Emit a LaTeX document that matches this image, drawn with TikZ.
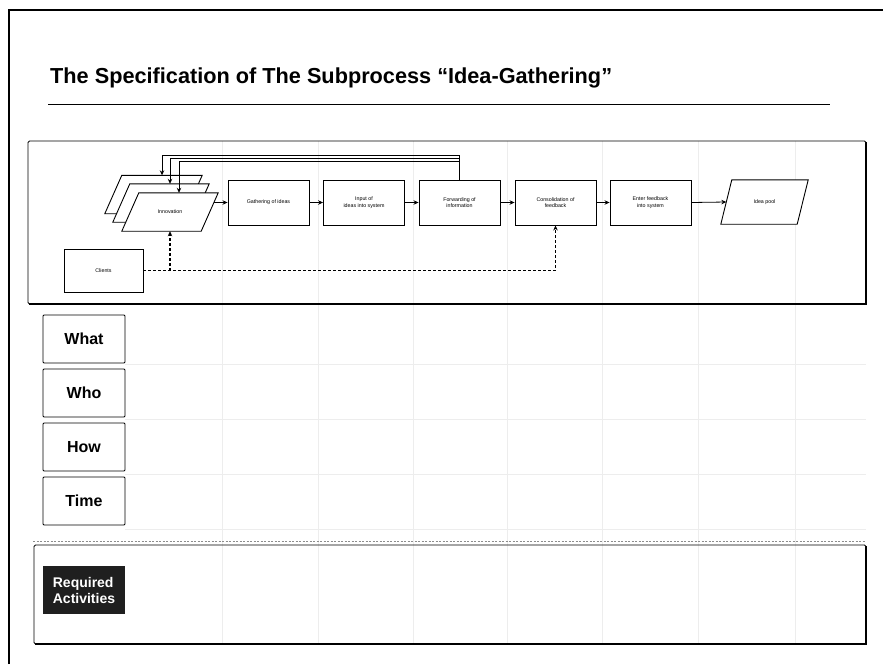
\documentclass[tikz,border=0pt]{standalone}
\usepackage{fontspec}
\setmainfont{Liberation Sans}
\usetikzlibrary{arrows.meta,calc}
\begin{document}
\begin{tikzpicture}[x=1pt,y=-1pt,
 proc/.style={draw,line width=0.9pt,minimum width=81pt,minimum height=45pt,inner sep=1pt,align=center,font=\fontsize{5.3}{6.3}\selectfont,fill=white},
 parabox/.style={inner sep=0pt,font=\fontsize{5.3}{6.3}\selectfont},
 paraline/.style={draw,line width=0.9pt,fill=white},
 arr/.style={line width=0.8pt,-{Stealth[length=5pt,width=4.5pt]}},
 fb/.style={line width=0.8pt,-{Stealth[length=5pt,width=4.5pt]}},
 darr/.style={line width=1.1pt,dash pattern=on 3pt off 2pt,-{Stealth[length=5pt,width=4.5pt]}},
 rowbox/.style={draw,line width=0.8pt,rounded corners=1pt,minimum width=82pt,minimum height=48pt,font=\bfseries\fontsize{16}{18}\selectfont},
 faint/.style={draw=black!7,line width=0.6pt},
 panel/.style={line width=0.9pt,rounded corners=1.5pt},
 shadow/.style={line width=2.2pt},
]
\useasboundingbox[fill=white] (0,0) rectangle (883,664);

% outer frame
\draw[line width=1.3pt] (9,664) -- (9,10) -- (883,10);

% title
\node[anchor=base west,inner sep=0pt,font=\bfseries\fontsize{21.7}{26}\selectfont] (title) at (50,83) {The Specification of The Subprocess “Idea-Gathering”};
\draw[line width=0.9pt] (48,104) -- (830,104);

% faint grid
\foreach \x in {222,318,413,507,602,698,795} \draw[faint] (\x,141) -- (\x,644);
\foreach \y in {364,419,474,529} \draw[faint] (125,\y) -- (866,\y);

% process panel
\draw[panel] (28,141) rectangle (866,304);
\draw[shadow] (29,304.3) -- (866.3,304.3) -- (866.3,142);

% innovation stack (bounding boxes as named nodes, parallelograms drawn on them)
\node[parabox,minimum width=97pt,minimum height=38pt] (innA) at (153.5,194.5) {};
\draw[paraline] (innA.south west) -- ([xshift=17pt]innA.north west) -- (innA.north east) -- ([xshift=-17pt]innA.south east) -- cycle;
\node[parabox,minimum width=96pt,minimum height=38pt] (innB) at (161,203) {};
\draw[paraline] (innB.south west) -- ([xshift=17pt]innB.north west) -- (innB.north east) -- ([xshift=-17pt]innB.south east) -- cycle;
\node[parabox,minimum width=96pt,minimum height=38pt] (innC) at (170,212) {};
\draw[paraline] (innC.south west) -- ([xshift=17pt]innC.north west) -- (innC.north east) -- ([xshift=-17pt]innC.south east) -- cycle;
\node[parabox] (innT) at (innC) {Innovation};

% process boxes
\node[proc] (gat) at (268.5,202.5) {Gathering of ideas};
\node[proc] (inp) at (364,202.5) {Input of\\ideas into system};
\node[proc] (fwd) at (459.5,202.5) {Forwarding of\\information};
\node[proc] (con) at (555.5,202.5) {Consolidation of\\feedback};
\node[proc] (ent) at (650.5,202.5) {Enter feedback\\into system};
\node[parabox,minimum width=87pt,minimum height=44pt] (pool) at (764.5,202) {};
\draw[paraline] (pool.south west) -- ([xshift=11pt]pool.north west) -- (pool.north east) -- ([xshift=-11pt]pool.south east) -- cycle;
\node[parabox] (poolT) at (pool) {Idea pool};
\node[proc,minimum width=79pt,minimum height=43pt] (cli) at (103.5,270.5) {Clients};

% flow arrows
\draw[arr] ([xshift=-4pt]innC.east |- gat.west) -- (gat.west);
\draw[arr] (gat) -- (inp);
\draw[arr] (inp) -- (fwd);
\draw[arr] (fwd) -- (con);
\draw[arr] (con) -- (ent);
\draw[arr] (ent.east) -- ([xshift=5.5pt]pool.west);

% feedback loops
\draw[fb] (fwd.north) |- ([xshift=8.5pt,yshift=20pt]innA.north) -- ([xshift=8.5pt]innA.north);
\draw[fb] (fwd.north) |- ([xshift=9pt,yshift=25pt]innB.north) -- ([xshift=9pt]innB.north);
\draw[fb] (fwd.north) |- ([xshift=9pt,yshift=31pt]innC.north) -- ([xshift=9pt]innC.north);

% clients dashed
\draw[darr] (cli.east) -| (con.south);
\draw[darr] (cli.east -| innC.south) -- (innC.south);

% row labels
\node[rowbox] (what) at (84,339) {What};
\node[rowbox] (who) at (84,393) {Who};
\node[rowbox] (how) at (84,447) {How};
\node[rowbox] (time) at (84,501) {Time};

% separator and bottom panel
\draw[black!45,line width=0.7pt,dash pattern=on 2pt off 1.5pt] (33,541.5) -- (866,541.5);
\draw[panel] (34,545) rectangle (866,644);
\draw[shadow] (35,644.3) -- (866.3,644.3) -- (866.3,546);

\node[fill=black!88,minimum width=82pt,minimum height=48pt,text=white,align=left,font=\bfseries\fontsize{14}{16}\selectfont] (req) at (84,590) {Required\\Activities};
\end{tikzpicture}
\end{document}
